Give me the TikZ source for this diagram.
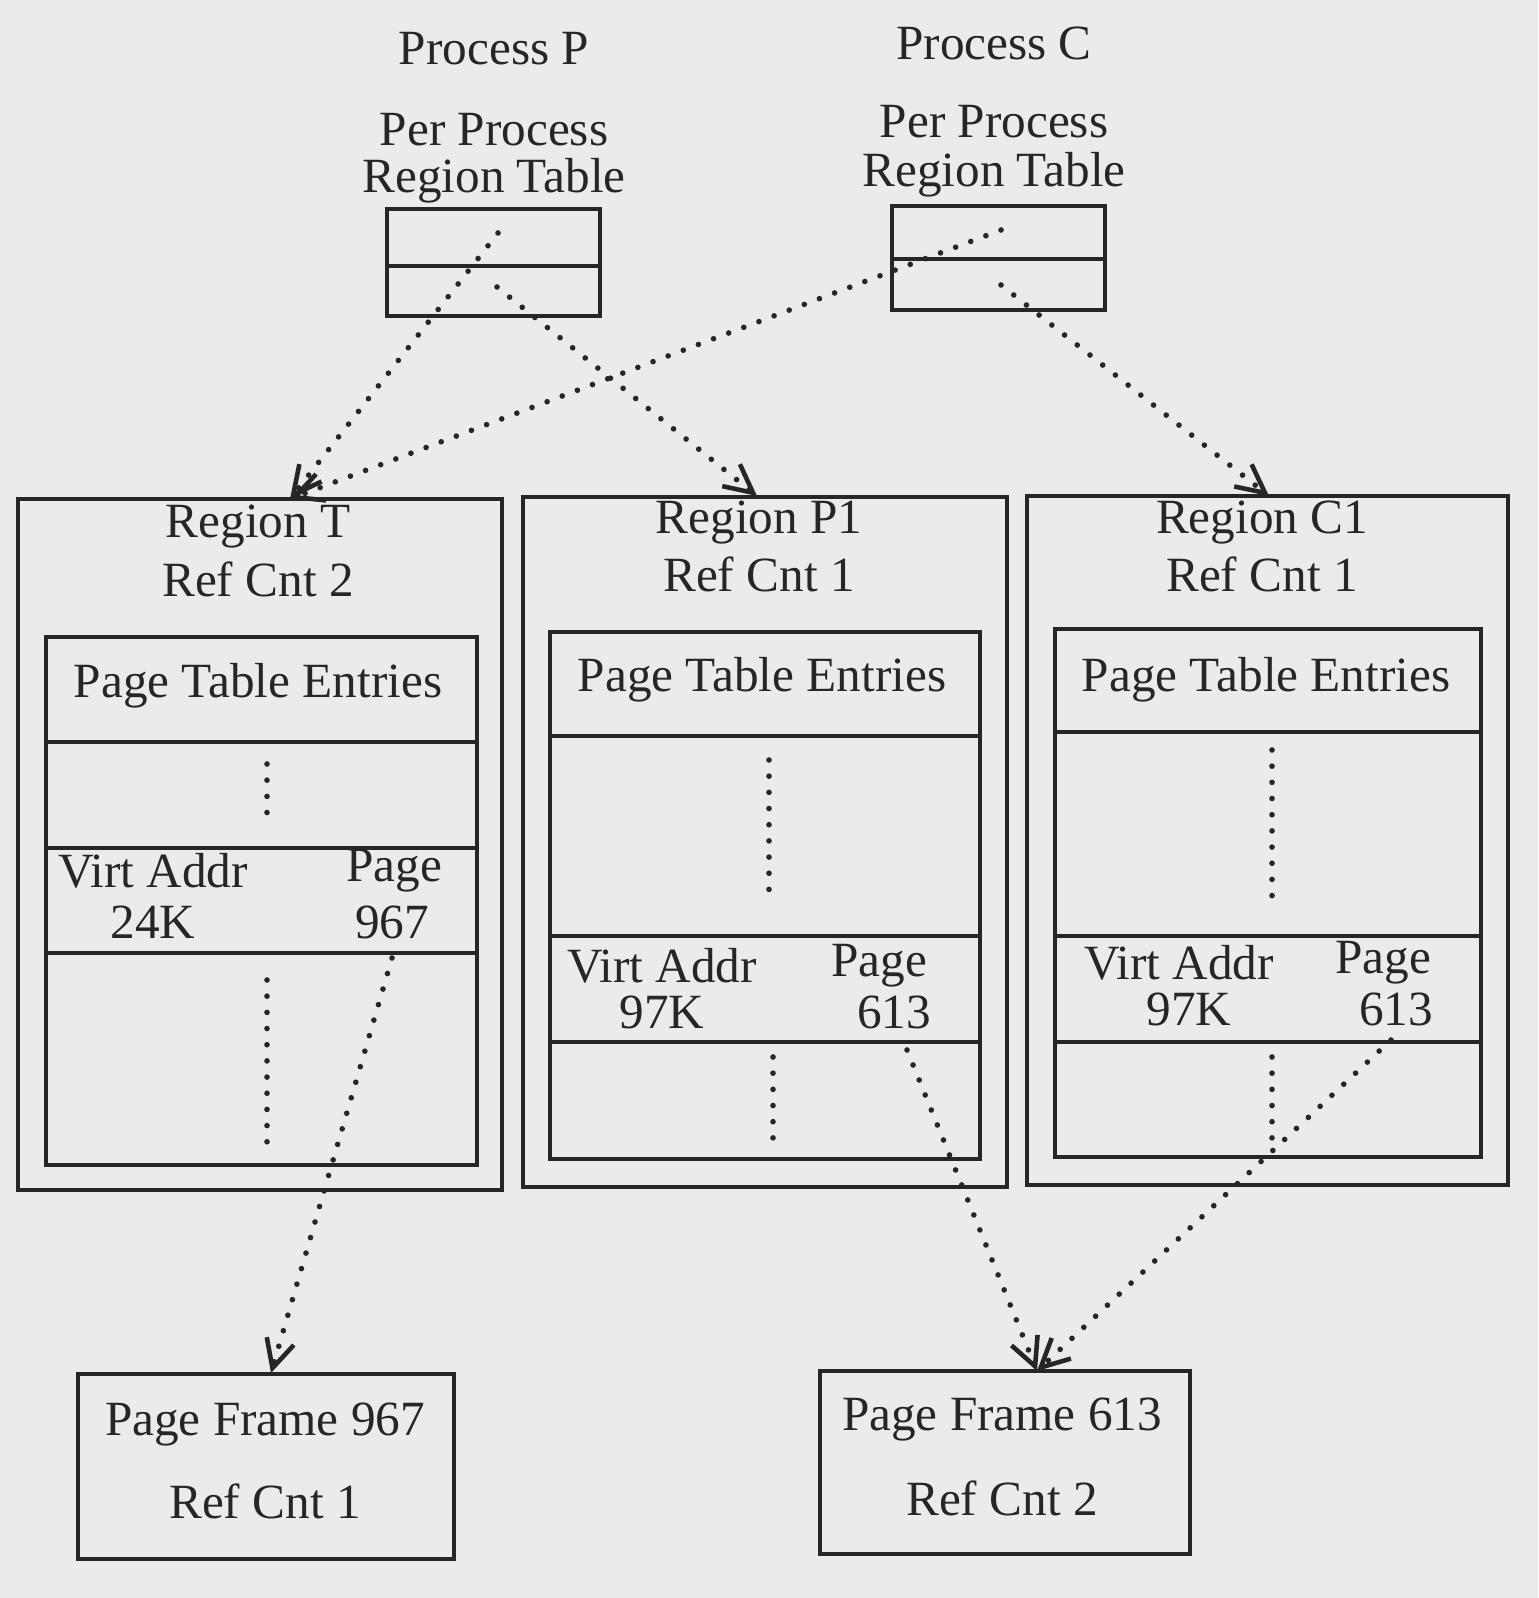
\documentclass[tikz,border=0pt]{standalone}
\usepackage{fontspec}
\setmainfont{Liberation Serif}
\usetikzlibrary{arrows.meta}
\definecolor{paper}{HTML}{EBEBEB}
\definecolor{ink}{HTML}{262626}
\tikzset{
  box/.style={draw=ink, line width=1.2pt, inner sep=0pt},
  lbl/.style={text=ink, font=\fontsize{14}{16}\selectfont, inner sep=0pt, anchor=center},
  dotline/.style={draw=ink, line width=1.6pt, line cap=round, dash pattern=on 0pt off 4.6pt},
  ptr/.style={dotline, -{Straight Barb[length=8pt,width=8pt,line width=1.3pt]}},
}
\begin{document}
\begin{tikzpicture}[x=0.01cm,y=-0.01cm]
\fill[paper] (0,0) rectangle (1538,1598);
\useasboundingbox (0,0) rectangle (1538,1598);

% Process P
\node[lbl] (procP) at (494,49) {Process P};
\node[lbl] (pprP1) at (494,130) {Per Process};
\node[lbl] (pprP2) at (494,181) {Region Table};
\draw[box] (387,209) rectangle (600,316);
\draw[box] (387,266) -- (600,266);
\coordinate (pT) at (498,233);
\coordinate (pB) at (497,287);

% Process C
\node[lbl] (procC) at (994,43) {Process C};
\node[lbl] (pprC1) at (994,122) {Per Process};
\node[lbl] (pprC2) at (994,175) {Region Table};
\draw[box] (892,206) rectangle (1105,310);
\draw[box] (892,259) -- (1105,259);
\coordinate (cT) at (1001,230);
\coordinate (cB) at (1001,285);

% Region T
\draw[box] (18,499) rectangle (502,1190);
\node[lbl] (rT1) at (258,527) {Region T};
\node[lbl] (rT2) at (258,579) {Ref Cnt 2};
\draw[box] (46,637) rectangle (477,1165);
\draw[box] (46,742) -- (477,742);
\draw[box] (46,848) -- (477,848);
\draw[box] (46,953) -- (477,953);
\node[lbl] (pteT) at (258,686) {Page Table Entries};
\node[lbl] (vaT) at (153,871) {Virt Addr};
\node[lbl] (kT) at (153,922) {24K};
\node[lbl] (pgT) at (394,871) {Page};
\node[lbl] (nT) at (392,922) {967};
\draw[dotline] (267,764) -- (267,826);
\draw[dotline] (267,980) -- (267,1142);
\coordinate (rTtop) at (290,499);
\coordinate (nTs) at (392,958);

% Region P1
\draw[box] (523,497) rectangle (1007,1187);
\node[lbl] (rP1) at (759,523) {Region P1};
\node[lbl] (rP2) at (759,574) {Ref Cnt 1};
\draw[box] (550,632) rectangle (980,1159);
\draw[box] (550,736) -- (980,736);
\draw[box] (550,936) -- (980,936);
\draw[box] (550,1042) -- (980,1042);
\node[lbl] (pteP) at (762,680) {Page Table Entries};
\node[lbl] (vaP) at (662,966) {Virt Addr};
\node[lbl] (kP) at (662,1012) {97K};
\node[lbl] (pgP) at (879,966) {Page};
\node[lbl] (nP) at (894,1012) {613};
\draw[dotline] (769,760) -- (769,902);
\draw[dotline] (773,1057) -- (773,1142);
\coordinate (rPtop) at (757,496);
\coordinate (nPs) at (907,1050);

% Region C1
\draw[box] (1027,496) rectangle (1508,1185);
\node[lbl] (rC1) at (1262,523) {Region C1};
\node[lbl] (rC2) at (1262,574) {Ref Cnt 1};
\draw[box] (1055,629) rectangle (1481,1157);
\draw[box] (1055,732) -- (1481,732);
\draw[box] (1055,936) -- (1481,936);
\draw[box] (1055,1042) -- (1481,1042);
\node[lbl] (pteC) at (1266,680) {Page Table Entries};
\node[lbl] (vaC) at (1179,963) {Virt Addr};
\node[lbl] (kC) at (1189,1009) {97K};
\node[lbl] (pgC) at (1383,963) {Page};
\node[lbl] (nC) at (1396,1009) {613};
\draw[dotline] (1272,750) -- (1272,907);
\draw[dotline] (1272,1057) -- (1272,1142);
\coordinate (rCtop) at (1269,496);
\coordinate (nCs) at (1391,1040);

% Page frames
\draw[box] (78,1374) rectangle (454,1559);
\node[lbl] (pf1a) at (265,1424) {Page Frame 967};
\node[lbl] (pf1b) at (265,1501) {Ref Cnt 1};
\coordinate (pf1top) at (271,1373);

\draw[box] (820,1371) rectangle (1190,1554);
\node[lbl] (pf2a) at (1002,1419) {Page Frame 613};
\node[lbl] (pf2b) at (1002,1498) {Ref Cnt 2};
\coordinate (pf2top) at (1037,1371);

% pointers
\draw[ptr] (pT) -- (rTtop);
\draw[ptr] (cT) -- (rTtop);
\draw[ptr] (pB) -- (rPtop);
\draw[ptr] (cB) -- (rCtop);
\draw[ptr] (nTs) -- (pf1top);
\draw[ptr] (nPs) -- (pf2top);
\draw[ptr] (nCs) -- (pf2top);
\end{tikzpicture}
\end{document}
